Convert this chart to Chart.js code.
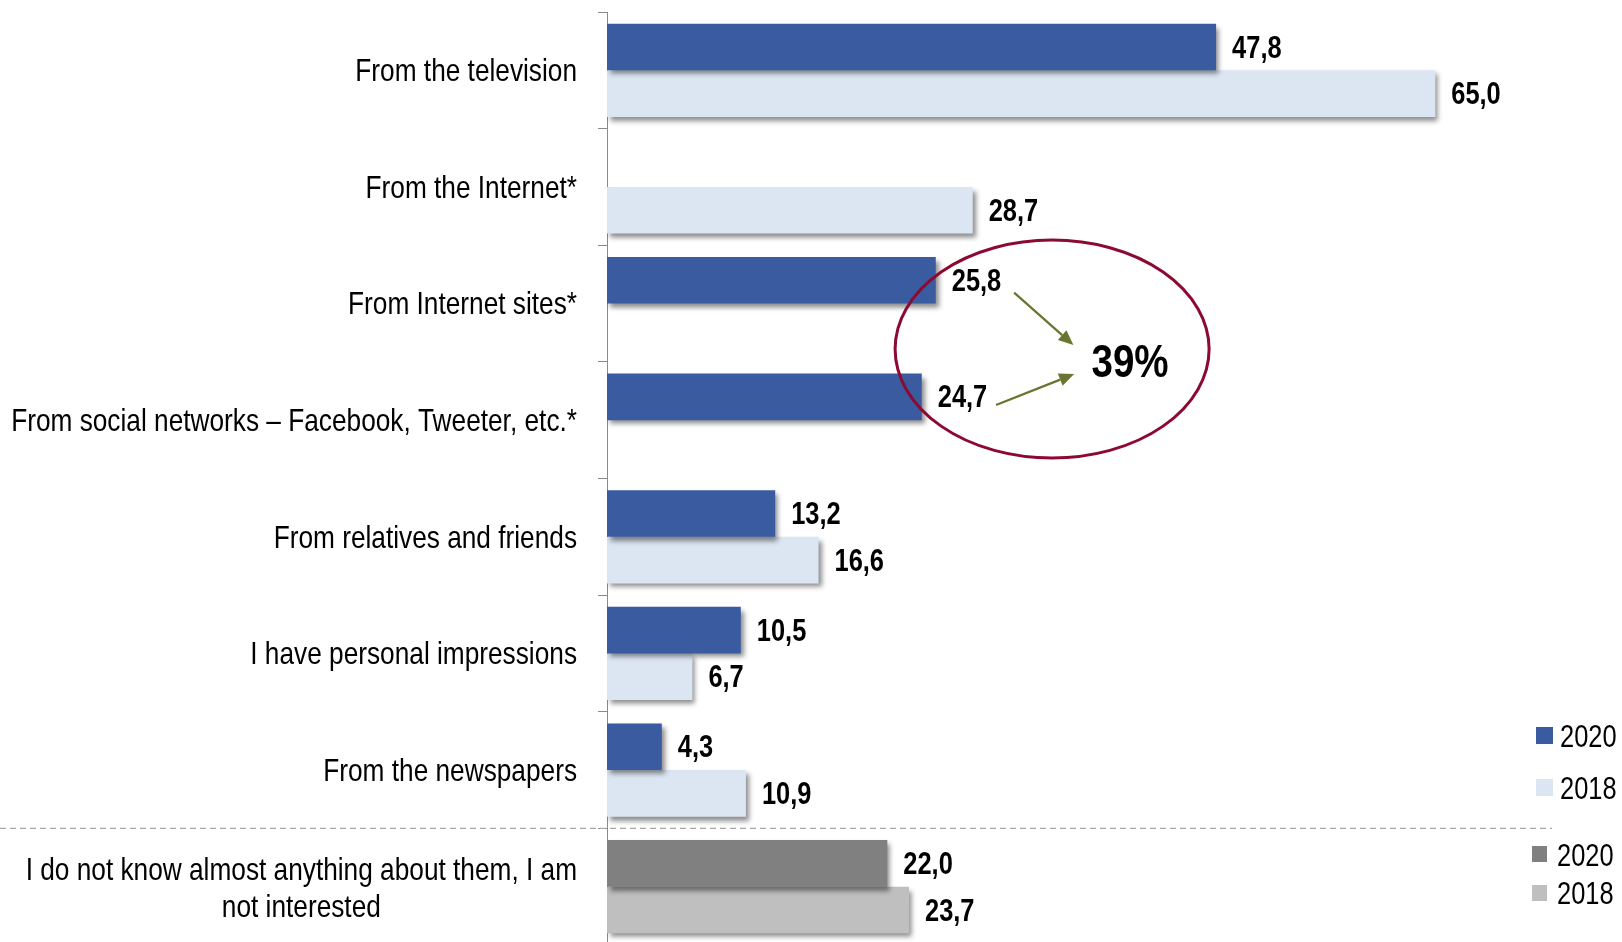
<!DOCTYPE html>
<html>
<head>
<meta charset="utf-8">
<script src="https://cdn.jsdelivr.net/npm/chart.js@4/dist/chart.umd.min.js"></script>
<style>
  html, body { margin: 0; padding: 0; background: #fff; overflow: hidden; }
  #wrap { width: 1622px; height: 946px; position: relative; }
</style>
</head>
<body>
<div id="wrap"><canvas id="sources"></canvas></div>
<script>
// data
var categories = [
  'From the television',
  'From the Internet*',
  'From Internet sites*',
  'From social networks \u2013 Facebook, Tweeter, etc.*',
  'From relatives and friends',
  'I have personal impressions',
  'From the newspapers',
  ['I do not know almost anything about them, I am', 'not interested']
];
var years = ['2020', '2018'];
var values2020 = [47.8, null, 25.8, 24.7, 13.2, 10.5, 4.3, 22.0];
var values2018 = [65.0, 28.7, null, null, 16.6, 6.7, 10.9, 23.7];
var combinedShare = '39%';

// no Arial Narrow here, so squeeze Liberation Sans horizontally
var FONT = "'Liberation Sans', Arial, sans-serif";
var NARROW = 0.82;
var blue = '#3A5BA0', lightBlue = '#DCE6F3', darkGray = '#808080', lightGray = '#BFBFBF';

function colorsFor(main, last) {
  return categories.map(function (c, i) { return i === categories.length - 1 ? last : main; });
}

function narrowText(ctx, t, x, y, align) {
  ctx.save();
  ctx.translate(x, y);
  ctx.scale(NARROW, 1);
  ctx.textAlign = align;
  ctx.fillText(t, 0, 0);
  ctx.restore();
}

// drop shadow under the bars
var barShadow = {
  id: 'barShadow',
  beforeDatasetsDraw: function (chart) {
    var ctx = chart.ctx;
    ctx.save();
    ctx.shadowColor = 'rgba(0,0,0,0.45)';
    ctx.shadowBlur = 5;
    ctx.shadowOffsetX = 3;
    ctx.shadowOffsetY = 4;
  },
  afterDatasetsDraw: function (chart) {
    chart.ctx.restore();
  }
};

// value labels, category labels, legend and the 39% note
var extras = {
  id: 'extras',
  afterDraw: function (chart) {
    var ctx = chart.ctx;
    var x = chart.scales.x, y = chart.scales.y;

    // values at the end of each bar
    ctx.save();
    ctx.font = 'bold 31px ' + FONT;
    ctx.fillStyle = '#000';
    ctx.textBaseline = 'middle';
    chart.data.datasets.forEach(function (ds, di) {
      chart.getDatasetMeta(di).data.forEach(function (bar, i) {
        var v = ds.data[i];
        if (v === null || v === undefined) return;
        narrowText(ctx, v.toFixed(1).replace('.', ','), bar.x + 16, bar.y + 2, 'left');
      });
    });
    ctx.restore();

    // category labels
    ctx.save();
    ctx.font = '32px ' + FONT;
    ctx.fillStyle = '#000';
    ctx.textBaseline = 'middle';
    var right = y.right - 30;
    categories.forEach(function (lab, i) {
      var cy = y.getPixelForTick(i) + 2;
      if (Array.isArray(lab)) {
        var w = NARROW * Math.max.apply(null, lab.map(function (l) { return ctx.measureText(l).width; }));
        var lh = 37;
        lab.forEach(function (l, k) {
          narrowText(ctx, l, right - w / 2, cy + 1 + (k - (lab.length - 1) / 2) * lh, 'center');
        });
      } else {
        narrowText(ctx, lab, right, cy, 'right');
      }
    });
    ctx.restore();

    // dashed separator before the last group
    ctx.save();
    var sepY = y.getPixelForValue(categories.length - 1.5);
    ctx.strokeStyle = '#A6A6A6';
    ctx.lineWidth = 1.2;
    ctx.setLineDash([6, 4]);
    ctx.beginPath();
    ctx.moveTo(0, sepY);
    ctx.lineTo(1552, sepY);
    ctx.stroke();
    ctx.restore();

    // legends
    ctx.save();
    ctx.font = '31px ' + FONT;
    ctx.textBaseline = 'middle';
    var legendRows = [
      { c: blue, sq: [1536, 727, 17, 17], tx: 1560, ty: 738, t: years[0] },
      { c: lightBlue, sq: [1536, 779, 17, 17], tx: 1560, ty: 790, t: years[1] },
      { c: darkGray, sq: [1532, 846, 15, 16], tx: 1557, ty: 857, t: years[0] },
      { c: lightGray, sq: [1532, 885, 15, 16], tx: 1557, ty: 895, t: years[1] }
    ];
    legendRows.forEach(function (r) {
      ctx.fillStyle = r.c;
      ctx.fillRect(r.sq[0], r.sq[1], r.sq[2], r.sq[3]);
      ctx.fillStyle = '#000';
      narrowText(ctx, r.t, r.tx, r.ty, 'left');
    });
    ctx.restore();

    // ellipse with arrows to the combined share
    ctx.save();
    ctx.strokeStyle = '#8C0A32';
    ctx.lineWidth = 3;
    ctx.beginPath();
    ctx.ellipse(x.getPixelForValue(34.93), y.getPixelForValue(2.39), 157, 109, 0, 0, Math.PI * 2);
    ctx.stroke();

    function arrow(x0, y0, x1, y1) {
      var a = Math.atan2(y1 - y0, x1 - x0), L = 15, W = 6.5;
      var bx = x1 - L * Math.cos(a), by = y1 - L * Math.sin(a);
      ctx.strokeStyle = '#6B7532';
      ctx.fillStyle = '#6B7532';
      ctx.lineWidth = 2.3;
      ctx.beginPath();
      ctx.moveTo(x0, y0);
      ctx.lineTo(bx, by);
      ctx.stroke();
      ctx.beginPath();
      ctx.moveTo(x1, y1);
      ctx.lineTo(bx + W * Math.sin(a), by - W * Math.cos(a));
      ctx.lineTo(bx - W * Math.sin(a), by + W * Math.cos(a));
      ctx.closePath();
      ctx.fill();
    }
    arrow(x.getPixelForValue(31.95), y.getPixelForValue(1.907), x.getPixelForValue(36.6), y.getPixelForValue(2.356));
    arrow(x.getPixelForValue(30.53), y.getPixelForValue(2.87), x.getPixelForValue(36.66), y.getPixelForValue(2.605));

    ctx.font = 'bold 47px ' + FONT;
    ctx.fillStyle = '#000';
    ctx.textBaseline = 'middle';
    narrowText(ctx, combinedShare, x.getPixelForValue(40.97) + 1, y.getPixelForValue(2.485) + 4, 'center');
    ctx.restore();
  }
};

var ctx = document.getElementById('sources').getContext('2d');
var chart = new Chart(ctx, {
  type: 'bar',
  data: {
    labels: categories,
    datasets: [{
      label: years[0],
      data: values2020,
      backgroundColor: colorsFor(blue, darkGray),
      borderWidth: 0
    }, {
      label: years[1],
      data: values2018,
      backgroundColor: colorsFor(lightBlue, lightGray),
      borderWidth: 0
    }]
  },
  options: {
    indexAxis: 'y',
    responsive: true,
    maintainAspectRatio: false,
    animation: false,
    layout: { padding: { top: 12, bottom: 1, left: 0, right: 123 } },
    datasets: { bar: { categoryPercentage: 0.8, barPercentage: 1.0 } },
    plugins: { legend: { display: false }, tooltip: { enabled: false } },
    scales: {
      x: { display: false, min: 0, max: 70 },
      y: {
        ticks: { display: false },
        grid: { drawOnChartArea: false, drawTicks: true, tickLength: 9, color: '#8A8A8A' },
        border: { display: true, color: '#8A8A8A', width: 1 },
        afterFit: function (scale) { scale.width = 607; }
      }
    }
  },
  plugins: [barShadow, extras]
});
</script>
</body>
</html>
